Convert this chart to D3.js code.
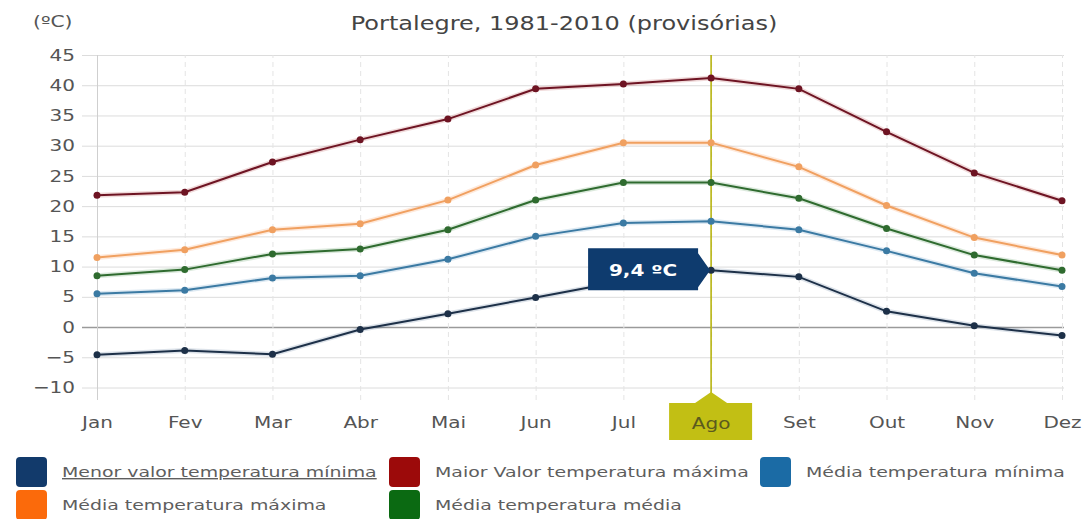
<!DOCTYPE html>
<html>
<head>
<meta charset="utf-8">
<script src="https://cdn.jsdelivr.net/npm/d3@7"></script>
<style>
  body { margin: 0; background: #fff; }
  svg text { font-family: "DejaVu Sans", Verdana, sans-serif; }
</style>
</head>
<body>
<svg id="chart" width="1084" height="519"></svg>
<script>
const months = ["Jan", "Fev", "Mar", "Abr", "Mai", "Jun", "Jul", "Ago", "Set", "Out", "Nov", "Dez"];
const yTicks = [-10, -5, 0, 5, 10, 15, 20, 25, 30, 35, 40, 45];

const maiorMax = [21.8, 22.3, 27.3, 31.0, 34.4, 39.4, 40.2, 41.2, 39.4, 32.3, 25.5, 20.9];
const mediaMax = [11.5, 12.8, 16.1, 17.1, 21.0, 26.8, 30.5, 30.5, 26.5, 20.1, 14.8, 11.9];
const mediaMed = [8.5, 9.5, 12.1, 12.9, 16.1, 21.0, 23.9, 23.9, 21.3, 16.3, 11.9, 9.4];
const mediaMin = [5.5, 6.1, 8.1, 8.5, 11.2, 15.0, 17.2, 17.5, 16.1, 12.6, 8.9, 6.7];
const menorMin = [-4.6, -3.9, -4.5, -0.4, 2.2, 4.9, 7.6, 9.4, 8.3, 2.6, 0.2, -1.4];

const title = "Portalegre, 1981-2010 (provisórias)";
const unitLabel = "(ºC)";
const highlightIndex = 7;

// draw order (back to front)
const series = [
  { name: "Maior Valor temperatura máxima", values: maiorMax, line: "#6e1423", swatch: "#9c0a0a" },
  { name: "Média temperatura máxima", values: mediaMax, line: "#f0a060", swatch: "#fb6a0b" },
  { name: "Média temperatura média", values: mediaMed, line: "#2f6b2f", swatch: "#0b6a12" },
  { name: "Média temperatura mínima", values: mediaMin, line: "#3b7aa3", swatch: "#1b6ba5" },
  { name: "Menor valor temperatura mínima", values: menorMin, line: "#1d3048", swatch: "#123a6b" }
];
// legend order
const legendOrder = [4, 0, 3, 1, 2];

const plotTop = 55;
const plotBottom = 387.5;
const plotLeft = 82;
const plotRight = 1064;

const x = d3.scalePoint().domain(months).range([97, 1062]);
const y = d3.scaleLinear().domain([-10, 45]).range([plotBottom, plotTop]);

const svg = d3.select("#chart");

// the original picture is a bit wider than the font, so stretch text horizontally
function stretch(sel, k) {
  sel.each(function () {
    const w = this.getComputedTextLength();
    d3.select(this).attr("textLength", w * k).attr("lengthAdjust", "spacingAndGlyphs");
  });
}

// horizontal grid + y labels
const yAxis = svg.append("g")
  .attr("transform", `translate(${plotLeft},0)`)
  .call(d3.axisLeft(y).tickValues(yTicks).tickSize(-(plotRight - plotLeft)).tickPadding(7));
yAxis.select(".domain").remove();
yAxis.selectAll("line")
  .attr("stroke", (d) => (d === 0 ? "#9a9a9a" : "#dcdcdc"))
  .attr("stroke-width", (d) => (d === 0 ? 1.5 : 1));
yAxis.selectAll("text")
  .attr("fill", "#555")
  .attr("font-size", 16)
  .call(stretch, 1.25);

// vertical grid + month labels
const xAxis = svg.append("g")
  .attr("transform", "translate(0,400)")
  .call(d3.axisBottom(x).tickSize(-(400 - plotTop)).tickPadding(17));
xAxis.select(".domain").remove();
xAxis.selectAll("line")
  .attr("stroke", (d, i) => (i === 0 ? "#cfcfcf" : "#e4e4e4"))
  .attr("stroke-dasharray", (d, i) => (i === 0 ? null : "5,4"));
xAxis.selectAll("text")
  .attr("fill", "#555")
  .attr("font-size", 16)
  .call(stretch, 1.25);

// title + unit
svg.append("text")
  .attr("x", 564).attr("y", 30)
  .attr("text-anchor", "middle")
  .attr("font-size", 20)
  .attr("fill", "#444")
  .text(title)
  .call(stretch, 1.2);

svg.append("text")
  .attr("x", 33).attr("y", 27)
  .attr("font-size", 15)
  .attr("fill", "#555")
  .text(unitLabel)
  .call(stretch, 1.35);

// crosshair on highlighted month
const hx = x(months[highlightIndex]);
svg.append("line")
  .attr("x1", hx).attr("x2", hx)
  .attr("y1", plotTop).attr("y2", 393)
  .attr("stroke", "#b3b000")
  .attr("stroke-width", 1.5);

// lines
const line = d3.line().x((d, i) => x(months[i])).y((d) => y(d));

const seriesG = svg.append("g")
  .selectAll("g")
  .data(series)
  .join("g");

seriesG.append("path")
  .attr("d", (d) => line(d.values))
  .attr("fill", "none")
  .attr("stroke", (d) => d.swatch)
  .attr("stroke-opacity", 0.15)
  .attr("stroke-width", 5);

seriesG.append("path")
  .attr("d", (d) => line(d.values))
  .attr("fill", "none")
  .attr("stroke", (d) => d.line)
  .attr("stroke-width", 2);

seriesG.selectAll("circle")
  .data((d) => d.values.map((v) => ({ v, c: d.line })))
  .join("circle")
  .attr("cx", (d, i) => x(months[i]))
  .attr("cy", (d) => y(d.v))
  .attr("r", 3.5)
  .attr("fill", (d) => d.c);

// tooltip for the lowest minimum on highlighted month
const tv = menorMin[highlightIndex];
const ty = y(tv);
const tipRight = hx - 13;
const tipLeft = tipRight - 110;
svg.append("path")
  .attr("d", `M${tipLeft},${ty - 22} H${tipRight} V${ty - 17} L${hx - 1},${ty} L${tipRight},${ty + 17} V${ty + 20} H${tipLeft} Z`)
  .attr("fill", "#0e3b6e");
svg.append("text")
  .attr("x", (tipLeft + tipRight) / 2)
  .attr("y", ty + 6)
  .attr("text-anchor", "middle")
  .attr("font-size", 16)
  .attr("font-weight", "bold")
  .attr("fill", "#fff")
  .text(String(tv).replace(".", ",") + " ºC")
  .call(stretch, 1.25);

// month highlight label
svg.append("path")
  .attr("d", `M${hx - 42},403 H${hx - 16} L${hx},392 L${hx + 16},403 H${hx + 41} V440 H${hx - 42} Z`)
  .attr("fill", "#c2bf14");
svg.append("text")
  .attr("x", hx).attr("y", 429)
  .attr("text-anchor", "middle")
  .attr("font-size", 16)
  .attr("fill", "#5b5a1e")
  .text(months[highlightIndex])
  .call(stretch, 1.25);

// legend
const legendPos = [
  { x: 16, y: 457 }, { x: 389, y: 457 }, { x: 760, y: 457 },
  { x: 16, y: 490 }, { x: 389, y: 490 }
];
const legend = svg.append("g")
  .selectAll("g")
  .data(legendOrder.map((k, i) => ({ s: series[k], p: legendPos[i], first: i === 0 })))
  .join("g")
  .attr("transform", (d) => `translate(${d.p.x},${d.p.y})`);

legend.append("rect")
  .attr("width", 31).attr("height", 30)
  .attr("rx", 4)
  .attr("fill", (d) => d.s.swatch);

legend.append("text")
  .attr("x", 46).attr("y", 20)
  .attr("font-size", 14)
  .attr("fill", "#5e5e5e")
  .attr("text-decoration", (d) => (d.first ? "underline" : null))
  .text((d) => d.s.name)
  .call(stretch, 1.35);
</script>
</body>
</html>
